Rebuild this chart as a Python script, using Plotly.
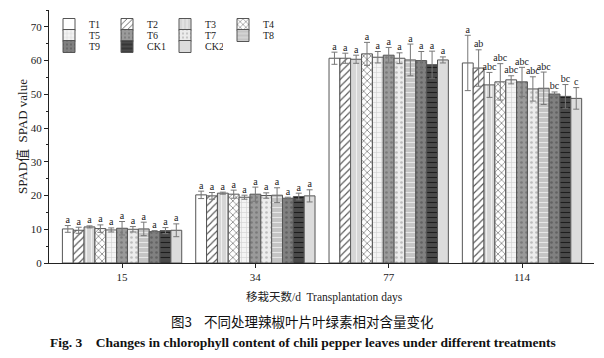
import plotly.graph_objects as go

days = ["15", "34", "77", "114"]
treatments = ["T1", "T2", "T3", "T4", "T5", "T6", "T7", "T8", "T9", "CK1", "CK2"]

# SPAD values per treatment across days [15, 34, 77, 114]
values = {
    "T1": [10.1, 20.2, 60.7, 59.3],
    "T2": [9.7, 19.9, 60.7, 57.8],
    "T3": [10.7, 20.7, 60.4, 52.8],
    "T4": [10.2, 20.4, 62.0, 53.7],
    "T5": [9.8, 19.5, 61.0, 54.3],
    "T6": [10.3, 20.4, 61.6, 53.7],
    "T7": [10.0, 20.0, 60.7, 51.6],
    "T8": [10.1, 20.1, 60.2, 51.8],
    "T9": [9.3, 19.2, 60.0, 50.1],
    "CK1": [9.6, 19.7, 58.8, 49.4],
    "CK2": [9.7, 19.9, 60.2, 48.8],
}
errors = {
    "T1": [1.0, 1.1, 1.8, 8.2],
    "T2": [0.9, 1.0, 1.5, 5.4],
    "T3": [0.3, 0.3, 1.2, 3.7],
    "T4": [1.1, 1.2, 3.4, 5.4],
    "T5": [0.6, 0.6, 1.7, 1.2],
    "T6": [2.0, 2.1, 2.3, 4.3],
    "T7": [0.8, 0.8, 1.6, 3.6],
    "T8": [2.0, 2.2, 4.7, 4.8],
    "T9": [0.3, 0.3, 2.7, 0.6],
    "CK1": [0.9, 1.0, 4.0, 3.5],
    "CK2": [1.9, 1.8, 0.9, 3.2],
}
letters = {
    "T1": ["a", "a", "a", "a"],
    "T2": ["a", "a", "a", "ab"],
    "T3": ["a", "a", "a", "abc"],
    "T4": ["a", "a", "a", "abc"],
    "T5": ["a", "a", "a", "abc"],
    "T6": ["a", "a", "a", "abc"],
    "T7": ["a", "a", "a", "abc"],
    "T8": ["a", "a", "a", "abc"],
    "T9": ["a", "a", "a", "bc"],
    "CK1": ["a", "a", "a", "bc"],
    "CK2": ["a", "a", "a", "c"],
}

styles = {
    "T1": dict(bg="#ffffff", shape="", fg="#ffffff"),
    "T2": dict(bg="#ffffff", shape="/", fg="#555555"),
    "T3": dict(bg="#d6d6d6", shape="|", fg="#f0f0f0"),
    "T4": dict(bg="#ffffff", shape="x", fg="#555555"),
    "T5": dict(bg="#f4f4f4", shape="+", fg="#d0d0d0"),
    "T6": dict(bg="#9a9a9a", shape=".", fg="#7a7a7a"),
    "T7": dict(bg="#ececec", shape=".", fg="#bdbdbd"),
    "T8": dict(bg="#c4c4c4", shape="-", fg="#e6e6e6"),
    "T9": dict(bg="#808080", shape=".", fg="#626262"),
    "CK1": dict(bg="#4a4a4a", shape="-", fg="#1e1e1e"),
    "CK2": dict(bg="#dcdcdc", shape="", fg="#dcdcdc"),
}
legend_rows = {"T1": "legend", "T2": "legend", "T3": "legend", "T4": "legend",
               "T5": "legend2", "T6": "legend2", "T7": "legend2", "T8": "legend2",
               "T9": "legend3", "CK1": "legend3", "CK2": "legend3"}

serif = "Liberation Serif, Times New Roman, serif"
cjk = "Noto Sans CJK SC"

fig = go.Figure()
for t in treatments:
    s = styles[t]
    fig.add_trace(go.Bar(
        name=t, x=days, y=values[t], offsetgroup=t, legend=legend_rows[t],
        marker=dict(color=s["bg"], line=dict(color="#555555", width=1),
                    pattern=dict(shape=s["shape"], fgcolor=s["fg"], bgcolor=s["bg"],
                                 size=5, solidity=0.22, fillmode="replace")),
        error_y=dict(type="data", array=errors[t], color="#777777", thickness=1, width=3),
    ))
for t in treatments:
    fig.add_trace(go.Scatter(
        x=days, y=[v + e for v, e in zip(values[t], errors[t])], offsetgroup=t,
        mode="text", text=letters[t], textposition="top center",
        textfont=dict(family=serif, size=10, color="#222222"),
        showlegend=False, hoverinfo="skip", cliponaxis=False,
    ))

H = 253.0
leg_common = dict(orientation="h", xanchor="left", yanchor="top", x=0.0,
                  entrywidth=13, font=dict(family=serif, size=10),
                  bgcolor="rgba(255,255,255,0)", tracegroupgap=0, itemwidth=30)

fig.update_layout(
    width=596, height=350,
    margin=dict(l=41, r=10, t=2, b=95),
    paper_bgcolor="white", plot_bgcolor="white",
    barmode="group", bargap=0.105, bargroupgap=0,
    scattermode="group", scattergap=0.105,
    font=dict(family=serif, size=11, color="#222222"),
    legend=dict(leg_common, y=1.0),
    legend2=dict(leg_common, y=1.0 - 11 / H),
    legend3=dict(leg_common, y=1.0 - 22 / H),
    xaxis=dict(showline=True, linecolor="#222222", linewidth=1, ticks="outside",
               ticklen=4, tickcolor="#222222", showgrid=False,
               range=[-0.548, 3.54],
               tickfont=dict(family=serif, size=11)),
    yaxis=dict(range=[0, 75], showline=True, linecolor="#222222", linewidth=1,
               ticks="outside", ticklen=4, tickcolor="#222222", dtick=10,
               minor=dict(dtick=5, ticks="outside", ticklen=2, tickcolor="#222222"),
               showgrid=False, zeroline=False,
               tickfont=dict(family=serif, size=11),
               title=dict(text="SPAD值  SPAD value", standoff=0,
                          font=dict(family=serif + ", " + cjk, size=13))),
    annotations=[
        dict(text="移栽天数/d  Transplantation days", xref="paper", yref="paper",
             x=0.505, y=-0.134, xanchor="center", yanchor="middle", showarrow=False,
             font=dict(family=serif + ", " + cjk, size=11.5)),
        dict(text="图3    不同处理辣椒叶片叶绿素相对含量变化", xref="paper", yref="paper",
             x=0.466, y=-0.229, xanchor="center", yanchor="middle", showarrow=False,
             font=dict(family=cjk, size=13.5, color="#111111")),
        dict(text="<b>Fig. 3    Changes in chlorophyll content of chili pepper leaves under different treatments</b>",
             xref="paper", yref="paper",
             x=0.466, y=-0.316, xanchor="center", yanchor="middle", showarrow=False,
             font=dict(family=serif, size=13.5, color="#111111")),
    ],
)

fig.write_html("out.html")
